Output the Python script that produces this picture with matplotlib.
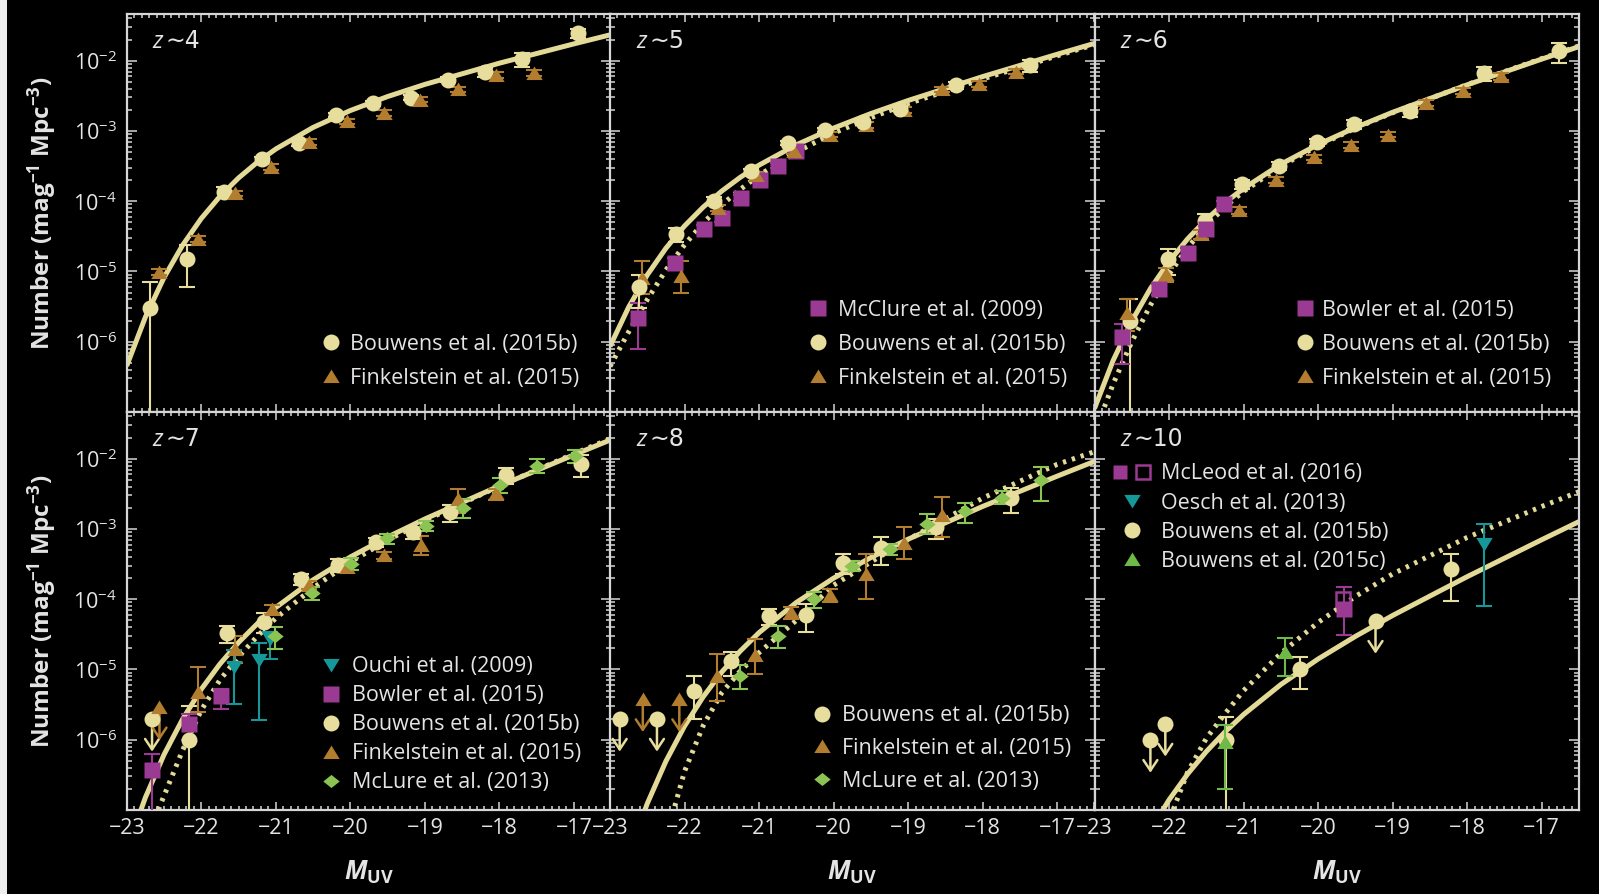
import numpy as np
import matplotlib
matplotlib.use("Agg")
import matplotlib.pyplot as plt
from matplotlib.ticker import FixedLocator, MultipleLocator, LogLocator, NullFormatter
from matplotlib.lines import Line2D
from matplotlib.legend_handler import HandlerTuple
from matplotlib.path import Path
from matplotlib.patches import Rectangle
from matplotlib.offsetbox import TextArea, HPacker, AnchoredOffsetbox

plt.rcParams['font.family'] = ['Open Sans', 'DejaVu Sans']
plt.rcParams['mathtext.fontset'] = 'custom'
plt.rcParams['mathtext.rm'] = 'Open Sans'
plt.rcParams['mathtext.it'] = 'Open Sans:italic'
plt.rcParams['mathtext.bf'] = 'Open Sans:bold'
plt.rcParams['mathtext.sf'] = 'Open Sans:bold:italic'

# ------------------------------------------------------------------ data
# Schechter fits, log10(number density) on a common magnitude grid
CURVE_M = [-23.0, -22.75, -22.5, -22.25, -22.0, -21.75, -21.5, -21.25, -21.0,
           -20.5, -20.0, -19.5, -19.0, -18.0, -17.0, -16.5]
FIT_Z4 = [-6.345, -5.651, -5.087, -4.626, -4.246, -3.932, -3.669, -3.447, -3.257,
          -2.950, -2.709, -2.510, -2.337, -2.035, -1.760, -1.628]
FIT_Z5 = [-6.066, -5.508, -5.049, -4.669, -4.352, -4.084, -3.855, -3.658, -3.486,
          -3.197, -2.959, -2.752, -2.566, -2.226, -1.908, -1.753]
FIT_Z6 = [-6.950, -6.267, -5.707, -5.244, -4.859, -4.535, -4.259, -4.022, -3.817,
          -3.473, -3.192, -2.951, -2.734, -2.343, -1.977, -1.799]
FIT_Z7 = [-7.565, -6.824, -6.213, -5.707, -5.282, -4.923, -4.616, -4.351, -4.118,
          -3.725, -3.399, -3.115, -2.858, -2.387, -1.945, -1.728]
FIT_Z8 = [-8.534, -7.639, -6.908, -6.306, -5.806, -5.389, -5.036, -4.735, -4.475,
          -4.046, -3.700, -3.406, -3.145, -2.679, -2.248, -2.038]
FIT_Z10 = [-9.139, -8.405, -7.796, -7.287, -6.856, -6.487, -6.168, -5.889, -5.641,
           -5.214, -4.851, -4.529, -4.231, -3.679, -3.153, -2.895]

ALT_Z5 = [-6.35, -5.86, -5.40, -4.98, -4.62, -4.31, -4.05, -3.83, -3.63,
          -3.30, -3.03, -2.81, -2.61, -2.26, -1.93, -1.77]
ALT_Z6 = [-7.30, -6.60, -6.00, -5.48, -5.04, -4.66, -4.35, -4.08, -3.86,
          -3.50, -3.21, -2.96, -2.74, -2.34, -1.97, -1.79]
ALT_Z7 = [-8.10, -7.45, -6.80, -6.15, -5.58, -5.15, -4.82, -4.53, -4.27,
          -3.84, -3.47, -3.16, -2.88, -2.39, -1.93, -1.71]
ALT_Z8 = [-9.90, -9.00, -8.20, -7.40, -6.45, -5.80, -5.33, -5.02, -4.76,
          -4.30, -3.80, -3.47, -3.15, -2.56, -2.08, -1.90]
ALT_Z10 = [-10.0, -9.2, -8.4, -7.7, -7.15, -6.46, -5.98, -5.63, -5.30,
           -4.77, -4.33, -3.96, -3.64, -3.12, -2.68, -2.47]

# z ~ 4
B15_Z4_M = [-22.69, -22.19, -21.69, -21.19, -20.69, -20.19, -19.69, -19.19, -18.69, -18.19, -17.69, -16.94]
B15_Z4_PHI = [3e-6, 1.5e-5, 1.34e-4, 3.93e-4, 6.78e-4, 1.696e-3, 2.475e-3, 2.984e-3, 5.352e-3, 6.865e-3, 1.0473e-2, 2.458e-2]
B15_Z4_ERR = [4e-6, 9e-6, 2.3e-5, 4e-5, 6.3e-5, 1.13e-4, 1.85e-4, 2.55e-4, 4.46e-4, 1.043e-3, 2.229e-3, 3.5e-3]
F15_Z4_M = [-22.57, -22.05, -21.55, -21.06, -20.55, -20.05, -19.55, -19.06, -18.55, -18.04, -17.54]
F15_Z4_PHI = [9.9e-6, 2.9e-5, 1.29e-4, 3.1e-4, 7.0e-4, 1.38e-3, 1.82e-3, 2.8e-3, 3.9e-3, 6.3e-3, 6.7e-3]
F15_Z4_ERR = [1.0e-6, 3e-6, 1.2e-5, 3e-5, 6e-5, 1.2e-4, 1.6e-4, 2.5e-4, 3.5e-4, 5.5e-4, 6e-4]

# z ~ 5
M09_Z5_M = [-22.63, -22.13, -21.74, -21.50, -21.24, -20.99, -20.74, -20.50]
M09_Z5_PHI = [2.2e-6, 1.3e-5, 4.0e-5, 5.8e-5, 1.12e-4, 2.0e-4, 3.2e-4, 5.2e-4]
M09_Z5_ERR = [1.4e-6, 2.5e-6, 6e-6, 8e-6, 1.2e-5, 1.8e-5, 2.5e-5, 4e-5]
B15_Z5_M = [-22.61, -22.11, -21.61, -21.11, -20.61, -20.11, -19.61, -19.11, -18.36, -17.36]
B15_Z5_PHI = [6e-6, 3.4e-5, 1.01e-4, 2.65e-4, 6.76e-4, 1.029e-3, 1.329e-3, 2.085e-3, 4.46e-3, 8.6e-3]
B15_Z5_ERR = [3e-6, 8e-6, 1.4e-5, 2.5e-5, 4.6e-5, 6.7e-5, 9.4e-5, 1.71e-4, 5.4e-4, 1.76e-3]
F15_Z5_M = [-22.57, -22.05, -21.55, -21.04, -20.53, -20.05, -19.56, -19.06, -18.55, -18.05, -17.55]
F15_Z5_PHI = [8e-6, 8.7e-6, 8.1e-5, 2.4e-4, 5.2e-4, 8.9e-4, 1.23e-3, 2.0e-3, 3.9e-3, 4.7e-3, 7.0e-3]
F15_Z5_LO = [3.2e-6, 3.7e-6, 8e-6, 2.4e-5, 5e-5, 8e-5, 1.1e-4, 1.8e-4, 3.5e-4, 4.2e-4, 6e-4]
F15_Z5_HI = [6e-6, 5.3e-6, 8e-6, 2.4e-5, 5e-5, 8e-5, 1.1e-4, 1.8e-4, 3.5e-4, 4.2e-4, 6e-4]

# z ~ 6
BW15_Z6_M = [-22.63, -22.13, -21.75, -21.51, -21.26]
BW15_Z6_PHI = [1.15e-6, 5.6e-6, 1.85e-5, 4.0e-5, 9.0e-5]
BW15_Z6_LO = [6.7e-7, 1.0e-6, 3e-6, 5e-6, 1e-5]
BW15_Z6_HI = [6.3e-7, 1.0e-6, 3e-6, 5e-6, 1e-5]
B15_Z6_M = [-22.52, -22.02, -21.52, -21.02, -20.52, -20.02, -19.52, -18.77, -17.77, -16.77]
B15_Z6_PHI = [2e-6, 1.5e-5, 5.3e-5, 1.76e-4, 3.2e-4, 6.98e-4, 1.246e-3, 1.9e-3, 6.68e-3, 1.364e-2]
B15_Z6_ERR = [2e-6, 6e-6, 1.2e-5, 2.5e-5, 4.1e-5, 8.3e-5, 1.64e-4, 3.02e-4, 1.513e-3, 4.408e-3]
F15_Z6_M = [-22.57, -22.04, -21.57, -21.06, -20.57, -20.06, -19.56, -19.06, -18.55, -18.06, -17.54]
F15_Z6_PHI = [2.6e-6, 9.1e-6, 3.4e-5, 7.4e-5, 2.0e-4, 4.2e-4, 6.4e-4, 8.9e-4, 2.5e-3, 3.7e-3, 6.0e-3]
F15_Z6_LO = [1.2e-6, 2e-6, 5e-6, 8e-6, 2e-5, 4e-5, 6e-5, 8e-5, 2.5e-4, 3.5e-4, 6e-4]
F15_Z6_HI = [1.5e-6, 2e-6, 5e-6, 8e-6, 2e-5, 4e-5, 6e-5, 8e-5, 2.5e-4, 3.5e-4, 6e-4]

# z ~ 7
O09_Z7_M = [-21.56, -21.23, -21.08]
O09_Z7_PHI = [1.07e-5, 1.35e-5, 2.7e-5]
O09_Z7_LO = [7.5e-6, 1.16e-5, 1.3e-5]
O09_Z7_HI = [8e-6, 1.05e-5, 7e-6]
BW15_Z7_M = [-22.66, -22.17, -21.74]
BW15_Z7_PHI = [3.7e-7, 1.7e-6, 4.2e-6]
BW15_Z7_LO = [3.65e-7, 7e-7, 1.45e-6]
BW15_Z7_HI = [2.6e-7, 6e-7, 1.1e-6]
B15_Z7_M = [-22.16, -21.66, -21.16, -20.66, -20.16, -19.66, -19.16, -18.66, -17.91, -16.91]
B15_Z7_PHI = [1e-6, 3.3e-5, 4.8e-5, 1.93e-4, 3.09e-4, 6.54e-4, 9.07e-4, 1.717e-3, 5.84e-3, 8.5e-3]
B15_Z7_ERR = [2e-6, 9e-6, 1.5e-5, 3.4e-5, 6.1e-5, 1.0e-4, 1.77e-4, 4.78e-4, 1.46e-3, 2.94e-3]
B15_Z7_LIM_M = [-22.66]
B15_Z7_LIM_PHI = [2e-6]
F15_Z7_M = [-22.05, -21.55, -21.05, -20.55, -20.05, -19.55, -19.05, -18.55, -18.04]
F15_Z7_PHI = [4.8e-6, 1.95e-5, 7.2e-5, 1.6e-4, 2.9e-4, 4.2e-4, 5.9e-4, 2.65e-3, 3.2e-3]
F15_Z7_LO = [2.3e-6, 7e-6, 1.1e-5, 2e-5, 3e-5, 5e-5, 1.6e-4, 9.5e-4, 6e-4]
F15_Z7_HI = [5.9e-6, 1.05e-5, 1.1e-5, 2e-5, 3e-5, 5e-5, 2.0e-4, 1.05e-3, 5e-4]
F15_Z7_LIM_M = [-22.56]
F15_Z7_LIM_PHI = [2.9e-6]
M13_Z7_M = [-21.01, -20.51, -19.99, -19.51, -18.99, -18.49, -17.99, -17.49, -16.99]
M13_Z7_PHI = [2.95e-5, 1.23e-4, 3.2e-4, 7.4e-4, 1.11e-3, 2.0e-3, 4.2e-3, 7.9e-3, 1.11e-2]
M13_Z7_LO = [1.0e-5, 2.5e-5, 6e-5, 1.2e-4, 1.8e-4, 5.5e-4, 9e-4, 1.7e-3, 2.4e-3]
M13_Z7_HI = [1.05e-5, 2.5e-5, 6e-5, 1.2e-4, 1.8e-4, 6.5e-4, 1.2e-3, 2.1e-3, 2.4e-3]

# z ~ 8
B15_Z8_M = [-21.87, -21.37, -20.87, -20.37, -19.87, -19.37, -18.62, -17.62]
B15_Z8_PHI = [5e-6, 1.3e-5, 5.8e-5, 6.0e-5, 3.31e-4, 5.33e-4, 1.06e-3, 2.74e-3]
B15_Z8_ERR = [3e-6, 5e-6, 1.5e-5, 2.6e-5, 1.04e-4, 2.26e-4, 3.4e-4, 1.04e-3]
B15_Z8_LIM_M = [-22.87, -22.37]
B15_Z8_LIM_PHI = [2e-6, 2e-6]
F15_Z8_M = [-21.56, -21.06, -20.57, -20.05, -19.56, -19.05, -18.55]
F15_Z8_PHI = [8.2e-6, 1.6e-5, 6.5e-5, 1.15e-4, 2.3e-4, 6.4e-4, 1.58e-3]
F15_Z8_LO = [4.6e-6, 7.3e-6, 1.3e-5, 2.3e-5, 1.3e-4, 2.7e-4, 8.2e-4]
F15_Z8_HI = [8.3e-6, 1.1e-5, 1.3e-5, 2.3e-5, 2.1e-4, 4.1e-4, 1.27e-3]
F15_Z8_LIM_M = [-22.56, -22.07]
F15_Z8_LIM_PHI = [3.8e-6, 3.8e-6]
M13_Z8_M = [-21.25, -20.75, -20.26, -19.76, -19.25, -18.75, -18.24, -17.74, -17.22]
M13_Z8_PHI = [8.0e-6, 3.0e-5, 1.0e-4, 3.0e-4, 5.2e-4, 1.17e-3, 1.82e-3, 2.8e-3, 5.0e-3]
M13_Z8_LO = [2.8e-6, 1.0e-5, 2.5e-5, 5e-5, 9e-5, 3.2e-4, 5.9e-4, 5.6e-4, 2.5e-3]
M13_Z8_HI = [3.5e-6, 1.1e-5, 2.5e-5, 5e-5, 9e-5, 4.5e-4, 5.5e-4, 6.7e-4, 2.7e-3]

# z ~ 10
ML16_Z10_M = [-19.65]
ML16_Z10_PHI = [7.2e-5]
ML16_Z10_LO = [4.1e-5]
ML16_Z10_HI = [7.6e-5]
ML16_OPEN_Z10_M = [-19.66]
ML16_OPEN_Z10_PHI = [1.0e-4]
O13_Z10_M = [-17.77]
O13_Z10_PHI = [6.1e-4]
O13_Z10_LO = [5.3e-4]
O13_Z10_HI = [5.6e-4]
B15_Z10_M = [-21.24, -20.24, -18.22]
B15_Z10_PHI = [1.0e-6, 1.02e-5, 2.66e-4]
B15_Z10_LO = [1.0e-6, 5e-6, 1.71e-4]
B15_Z10_HI = [1.1e-6, 5e-6, 1.71e-4]
B15_Z10_LIM_M = [-22.25, -22.05, -19.23]
B15_Z10_LIM_PHI = [1.0e-6, 1.7e-6, 4.95e-5]
B15C_Z10_M = [-21.25, -20.45]
B15C_Z10_PHI = [9.3e-7, 1.76e-5]
B15C_Z10_LO = [7.3e-7, 9.4e-6]
B15C_Z10_HI = [6.7e-7, 1.04e-5]

PANEL_LABELS = ["4", "5", "6", "7", "8", "10"]
X_TICKS = [-23, -22, -21, -20, -19, -18, -17]
Y_TICKS = [1e-6, 1e-5, 1e-4, 1e-3, 1e-2]

# ------------------------------------------------------------------ style
BG = '#000000'
TEXT = '#e4e4e4'
FRAME = '#d6d6d6'
C_B15 = '#e7dd9d'
C_FIT = '#e4da98'
C_F15 = '#b27d2e'
C_PURPLE = '#9a3a92'
C_TEAL = '#16979a'
C_M13 = '#8cc454'
C_B15C = '#6fb947'

W, H, DPI = 1599, 894, 100
XLIM = (-23.0, -16.5)
YLIM = (1e-7, 10 ** -1.335)
LEG_FS = 15.5
TICK_FS = 15.5
LIM_DEX = 0.47

TRI_UP = Path([(-1, -0.8), (1, -0.8), (0, 0.85), (-1, -0.8)])
TRI_DN = Path([(-1, 0.8), (1, 0.8), (0, -0.85), (-1, 0.8)])
DIAMOND = Path([(-1, 0), (0, 0.8), (1, 0), (0, -0.8), (-1, 0)])

STYLE = {
    'b15': dict(marker='o', color=C_B15, ms=11.5),
    'f15': dict(marker=TRI_UP, color=C_F15, ms=11.8),
    'sq': dict(marker='s', color=C_PURPLE, ms=11.0),
    'teal': dict(marker=TRI_DN, color=C_TEAL, ms=11.8),
    'm13': dict(marker=DIAMOND, color=C_M13, ms=11.8),
    'b15c': dict(marker=TRI_UP, color=C_B15C, ms=11.8),
}

fig = plt.figure(figsize=(W / DPI, H / DPI), dpi=DPI, facecolor=BG)
fig.patches.append(Rectangle((0, 0), 7 / W, 1, transform=fig.transFigure,
                             facecolor='#eeeeee', edgecolor='none', zorder=-5))

COL_X = [126.7, 610.0, 1094.5]
COL_W = 484.5
ROW_Y = [14.0, 412.0]
ROW_H = 398.0


def redshift_tag(ax, label):
    parts = HPacker(children=[
        TextArea('z', textprops=dict(color=TEXT, fontsize=17, style='italic')),
        TextArea('\u223c' + label, textprops=dict(color=TEXT, fontsize=17,
                                                  family=['DejaVu Sans'])),
    ], align='baseline', pad=0, sep=2)
    box = AnchoredOffsetbox(loc='center left', child=parts, pad=0, borderpad=0,
                            frameon=False, bbox_to_anchor=(26 / COL_W, 1 - 27 / ROW_H),
                            bbox_transform=ax.transAxes)
    ax.add_artist(box)


axes = []
for r in range(2):
    for c in range(3):
        ax = fig.add_axes([COL_X[c] / W, 1 - (ROW_Y[r] + ROW_H) / H, COL_W / W, ROW_H / H])
        ax.set_facecolor(BG)
        ax.set_yscale('log')
        ax.set_xlim(*XLIM)
        ax.set_ylim(*YLIM)
        ax.xaxis.set_major_locator(FixedLocator(X_TICKS))
        ax.xaxis.set_minor_locator(MultipleLocator(0.1))
        ax.yaxis.set_major_locator(FixedLocator(Y_TICKS))
        ax.yaxis.set_minor_locator(LogLocator(base=10, subs=np.arange(2, 10)))
        ax.yaxis.set_minor_formatter(NullFormatter())
        for s in ax.spines.values():
            s.set_color(FRAME)
            s.set_linewidth(1.6)
        ax.tick_params(which='both', direction='in', top=True, right=True,
                       color=FRAME, width=1.1, labelcolor=TEXT, labelsize=TICK_FS)
        ax.tick_params(axis='x', which='major', length=5.5, pad=6)
        ax.tick_params(axis='x', which='minor', length=2.8)
        ax.tick_params(axis='y', which='major', length=7.5, pad=7)
        ax.tick_params(axis='y', which='minor', length=3.8)
        ax.tick_params(labelbottom=(r == 1), labelleft=(c == 0))
        redshift_tag(ax, PANEL_LABELS[3 * r + c])
        axes.append(ax)


def fit(ax, logphi, dotted=False):
    kw = dict(color=C_FIT, lw=3.6, zorder=2, solid_capstyle='butt')
    if dotted:
        kw.update(ls=(0, (0.66, 1.2)), dash_capstyle='butt')
    ax.plot(CURVE_M, 10 ** np.asarray(logphi), **kw)


def points(ax, key, m, phi, lo, hi, z=4):
    st = STYLE[key]
    ax.errorbar(m, phi, yerr=[lo, hi], fmt='none', ecolor=st['color'], elinewidth=1.5,
                capsize=5.8, capthick=1.5, zorder=z)
    ax.plot(m, phi, ls='none', marker=st['marker'], ms=st['ms'], mfc=st['color'],
            mec='none', zorder=z + 0.1)


def limits(ax, key, m, phi, z=4):
    st = STYLE[key]
    for mi, pi in zip(m, phi):
        ax.annotate('', xy=(mi, pi * 10 ** -LIM_DEX), xytext=(mi, pi),
                    arrowprops=dict(arrowstyle='->,head_length=0.75,head_width=0.5',
                                    color=st['color'], lw=1.8, shrinkA=0, shrinkB=0,
                                    mutation_scale=10), zorder=z)
    ax.plot(m, phi, ls='none', marker=st['marker'], ms=st['ms'], mfc=st['color'],
            mec='none', zorder=z + 0.1)


def handle(key, **extra):
    st = STYLE[key]
    kw = dict(ls='none', marker=st['marker'], ms=st['ms'], mfc=st['color'], mec='none')
    kw.update(extra)
    return Line2D([], [], **kw)


def legend(ax, handles, labels, mx, my, spacing, hl=0.75, tp=0.5, hmap=None):
    F = LEG_FS * DPI / 72.0
    row_h = 0.93 * F
    left = mx - hl * F / 2.0
    top = my - 0.34 * F
    ax.legend(handles, labels, loc='upper left',
              bbox_to_anchor=(left / W, 1 - top / H), bbox_transform=fig.transFigure,
              frameon=False, fontsize=LEG_FS, handlelength=hl, handletextpad=tp,
              labelspacing=(spacing - row_h) / F, borderpad=0, borderaxespad=0,
              labelcolor=TEXT, handler_map=hmap)


# z ~ 4
ax = axes[0]
fit(ax, FIT_Z4)
points(ax, 'b15', B15_Z4_M, B15_Z4_PHI, B15_Z4_ERR, B15_Z4_ERR)
points(ax, 'f15', F15_Z4_M, F15_Z4_PHI, F15_Z4_ERR, F15_Z4_ERR)
legend(ax, [handle('b15'), handle('f15')],
       ['Bouwens et al. (2015b)', 'Finkelstein et al. (2015)'], 330.7, 341.0, 33.3)

# z ~ 5
ax = axes[1]
fit(ax, ALT_Z5, dotted=True)
fit(ax, FIT_Z5)
points(ax, 'sq', M09_Z5_M, M09_Z5_PHI, M09_Z5_ERR, M09_Z5_ERR)
points(ax, 'f15', F15_Z5_M, F15_Z5_PHI, F15_Z5_LO, F15_Z5_HI)
points(ax, 'b15', B15_Z5_M, B15_Z5_PHI, B15_Z5_ERR, B15_Z5_ERR)
legend(ax, [handle('sq'), handle('b15'), handle('f15')],
       ['McClure et al. (2009)', 'Bouwens et al. (2015b)', 'Finkelstein et al. (2015)'],
       817.7, 307.0, 33.0, tp=0.55)

# z ~ 6
ax = axes[2]
fit(ax, ALT_Z6, dotted=True)
fit(ax, FIT_Z6)
points(ax, 'b15', B15_Z6_M, B15_Z6_PHI, B15_Z6_ERR, B15_Z6_ERR)
points(ax, 'f15', F15_Z6_M, F15_Z6_PHI, F15_Z6_LO, F15_Z6_HI)
points(ax, 'sq', BW15_Z6_M, BW15_Z6_PHI, BW15_Z6_LO, BW15_Z6_HI)
legend(ax, [handle('sq'), handle('b15'), handle('f15')],
       ['Bowler et al. (2015)', 'Bouwens et al. (2015b)', 'Finkelstein et al. (2015)'],
       1305.0, 307.0, 33.0, tp=0.4)

# z ~ 7
ax = axes[3]
fit(ax, ALT_Z7, dotted=True)
fit(ax, FIT_Z7)
points(ax, 'b15', B15_Z7_M, B15_Z7_PHI, B15_Z7_ERR, B15_Z7_ERR)
limits(ax, 'b15', B15_Z7_LIM_M, B15_Z7_LIM_PHI)
points(ax, 'f15', F15_Z7_M, F15_Z7_PHI, F15_Z7_LO, F15_Z7_HI)
limits(ax, 'f15', F15_Z7_LIM_M, F15_Z7_LIM_PHI)
points(ax, 'sq', BW15_Z7_M, BW15_Z7_PHI, BW15_Z7_LO, BW15_Z7_HI)
points(ax, 'teal', O09_Z7_M, O09_Z7_PHI, O09_Z7_LO, O09_Z7_HI)
points(ax, 'm13', M13_Z7_M, M13_Z7_PHI, M13_Z7_LO, M13_Z7_HI)
legend(ax, [handle('teal'), handle('sq'), handle('b15'), handle('f15'), handle('m13')],
       ['Ouchi et al. (2009)', 'Bowler et al. (2015)', 'Bouwens et al. (2015b)',
        'Finkelstein et al. (2015)', 'McLure et al. (2013)'],
       330.7, 663.5, 28.0, tp=0.6)

# z ~ 8
ax = axes[4]
fit(ax, ALT_Z8, dotted=True)
fit(ax, FIT_Z8)
points(ax, 'b15', B15_Z8_M, B15_Z8_PHI, B15_Z8_ERR, B15_Z8_ERR)
limits(ax, 'b15', B15_Z8_LIM_M, B15_Z8_LIM_PHI)
points(ax, 'f15', F15_Z8_M, F15_Z8_PHI, F15_Z8_LO, F15_Z8_HI)
limits(ax, 'f15', F15_Z8_LIM_M, F15_Z8_LIM_PHI)
points(ax, 'm13', M13_Z8_M, M13_Z8_PHI, M13_Z8_LO, M13_Z8_HI)
legend(ax, [handle('b15'), handle('f15'), handle('m13')],
       ['Bouwens et al. (2015b)', 'Finkelstein et al. (2015)', 'McLure et al. (2013)'],
       821.7, 712.5, 31.7, tp=0.55)

# z ~ 10
ax = axes[5]
fit(ax, ALT_Z10, dotted=True)
fit(ax, FIT_Z10)
ax.plot(ML16_OPEN_Z10_M, ML16_OPEN_Z10_PHI, ls='none', marker='s', ms=10.5, mfc='none',
        mec=C_PURPLE, mew=1.8, zorder=3.5)
points(ax, 'sq', ML16_Z10_M, ML16_Z10_PHI, ML16_Z10_LO, ML16_Z10_HI)
points(ax, 'teal', O13_Z10_M, O13_Z10_PHI, O13_Z10_LO, O13_Z10_HI)
points(ax, 'b15', B15_Z10_M, B15_Z10_PHI, B15_Z10_LO, B15_Z10_HI)
limits(ax, 'b15', B15_Z10_LIM_M, B15_Z10_LIM_PHI)
points(ax, 'b15c', B15C_Z10_M, B15C_Z10_PHI, B15C_Z10_LO, B15C_Z10_HI, z=5)
sq_pair = (handle('sq', ms=10.5), handle('sq', ms=10.5, mfc='none', mec=C_PURPLE, mew=1.8))
legend(ax, [sq_pair, handle('teal'), handle('b15'), handle('b15c')],
       ['McLeod et al. (2016)', 'Oesch et al. (2013)', 'Bouwens et al. (2015b)',
        'Bouwens et al. (2015c)'],
       1131.7, 470.7, 28.2, hl=2.05, tp=0.35,
       hmap={tuple: HandlerTuple(ndivide=None, pad=0.05)})

# shared axis titles
for r in range(2):
    yc = ROW_Y[r] + ROW_H / 2
    fig.text(42 / W, 1 - yc / H, 'Number (mag$^{\\mathbf{-1}}$ Mpc$^{\\mathbf{-3}}$)',
             rotation=90, ha='center', va='center', color=TEXT, fontsize=17.5,
             fontweight='bold')
for c in range(3):
    xc = COL_X[c] + COL_W / 2
    fig.text(xc / W, 1 - 872 / H, '$\\mathsf{M}_{\\mathbf{UV}}$', ha='center',
             va='center', color=TEXT, fontsize=18.5)

fig.savefig('out.png', dpi=DPI, facecolor=BG)
